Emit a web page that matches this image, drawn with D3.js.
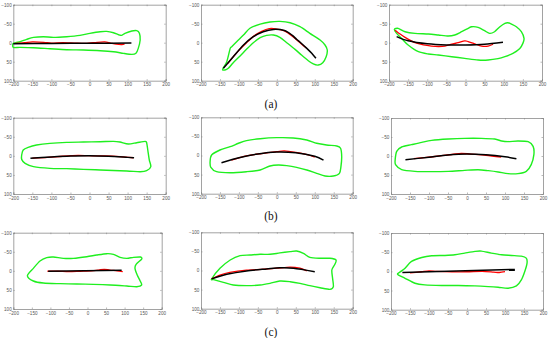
<!DOCTYPE html>
<html>
<head>
<meta charset="utf-8">
<script src="https://cdn.jsdelivr.net/npm/d3@7"></script>
<style>
  body { margin: 0; background: #fff; }
  svg { display: block; }
</style>
</head>
<body>
<svg id="chart" width="550" height="338"></svg>
<script>
// axis ticks, shared by all 9 panels
var xTicks = [-200, -150, -100, -50, 0, 50, 100, 150, 200];
var yTicks = [-100, -50, 0, 50, 100];
var captions = ['(a)', '(b)', '(c)'];

// row (a)
var outlineA1 = [[-200,1.8],[-182,-2.6],[-165,-8.8],[-147,-14],[-121,-15.8],[-95,-14],[-60,-15.8],[-25,-19.3],[1,-24.6],[28,-29],[45,-29.8],[63,-26.3],[76,-21],[84,-19.3],[93,-24.6],[111,-30.7],[124,-31.6],[131,-24.6],[133,-7],[128,15],[122,28],[111,30.7],[89,28],[63,23.7],[28,21],[-16,19.3],[-60,18.4],[-104,15.8],[-147,13.2],[-182,12.3],[-200,12.3]];
var redA1 = [[-195,2],[-170,0],[-150,-2],[-120,-1],[-100,1],[-70,0],[-40,1],[-10,2],[20,-1],[40,-2],[55,1],[70,4],[85,5],[92,3]];
var blackA1 = [[-200,3],[-100,2],[0,1.5],[110,1]];

var outlineA2 = [[-143,70],[-132,50],[-123,15],[-119,10.5],[-106,-2.6],[-88,-20],[-71,-38],[-44,-49],[-18,-54.4],[8,-56],[35,-52.6],[61,-42],[87,-24.6],[114,-7],[127,6],[133,19.3],[130,36.8],[121,52.6],[109,58.8],[96,56],[83,47.4],[65,32.5],[48,17.5],[26,0],[8,-14],[-9,-20.2],[-27,-19.3],[-44,-13.2],[-62,0],[-80,17.5],[-97,35],[-115,52.6],[-128,67.5],[-137,72]];
var redA2 = [[-130,55],[-100,20],[-80,0],[-60,-18],[-40,-30],[-20,-37],[0,-36],[20,-31],[40,-18],[55,-5],[70,8],[78,14]];
var blackA2 = [[-141,67.5],[-115,37],[-88,6],[-62,-15.8],[-36,-29],[-9,-35],[20,-32],[40,-20],[52,-9],[65,2],[79,15],[92,28],[103,41]];

var outlineA3 = [[-186,-35],[-176,-37.7],[-158,-28.9],[-132,-24.6],[-97,-22.8],[-71,-20.2],[-45,-17.5],[-28,-20.2],[-10,-28.9],[7,-37.7],[16,-42],[33,-40.4],[50,-31.6],[63,-24.6],[76,-28.9],[90,-42],[103,-50.9],[111,-52.6],[120,-49],[133,-42],[146,-28.9],[153,-11.4],[150,1.8],[142,15],[124,28],[103,36.8],[85,42],[59,45.6],[33,45.6],[-2,41.2],[-36,36.8],[-71,32.5],[-97,29.8],[-123,23.7],[-150,6],[-167,-11.4],[-180,-24.6]];
var redA3 = [[-184,-33],[-170,-22],[-158,-14],[-132,0],[-110,6],[-89,9],[-70,10],[-54,9],[-36,4],[-19,0],[-2,-5],[7,-3],[24,3],[42,9],[59,9],[72,4]];
var blackA3 = [[-180,-16],[-150,-5],[-100,3],[-50,6],[0,6],[50,4],[98,-1]];

// row (b)
var outlineB1 = [[-178,-2.2],[-174,-15.3],[-161,-22.3],[-139,-28.4],[-104,-32.8],[-60,-35.4],[-16,-36.2],[28,-37],[63,-38],[80,-36.2],[102,-31],[124,-34.5],[146,-38],[150,-34.5],[153,-15.3],[157,11],[161,28.4],[150,39],[133,41.5],[98,39.7],[28,37],[-16,35.4],[-60,33.6],[-104,32.8],[-147,28.4],[-169,19.7],[-178,9.2]];
var redB1 = [[-150,6],[-110,4],[-70,1],[-30,-1],[10,0],[40,0],[80,2],[115,5]];
var blackB1 = [[-155,6.5],[-100,3],[-50,0.5],[0,-0.5],[50,1],[100,4],[117,5]];

var outlineB2 = [[-176,16],[-172,-1.3],[-150,-14.4],[-123,-23],[-101,-32],[-80,-39],[-44,-44],[0,-46.7],[43,-46],[79,-40.6],[105,-32],[131,-27.5],[158,-25],[168,-18.8],[171,3],[169,29.3],[165,46.7],[149,53.7],[127,53.7],[105,46.7],[79,38],[52,31],[26,26.6],[4,25],[-18,27.5],[-44,38],[-80,42.4],[-123,45],[-159,42.4],[-174,31]];
var redB2 = [[-120,12],[-80,1],[-40,-5],[0,-10],[20,-12],[50,-8],[80,-2],[100,4]];
var blackB2 = [[-146,19],[-100,6],[-50,-4],[0,-9],[50,-7],[100,2],[123,12]];

var outlineB3 = [[-189,9.6],[-185,-12.3],[-172,-23.7],[-146,-29.8],[-119,-36],[-93,-41.2],[-49,-44.7],[-6,-46.5],[38,-46.5],[73,-44.7],[91,-39.5],[108,-37.7],[134,-39.5],[161,-37.7],[174,-25.4],[176,-3.5],[169,22.8],[156,40.4],[134,46.5],[108,46.5],[82,42],[56,38.6],[29,36],[-6,37.7],[-49,40.4],[-93,41.2],[-137,40.4],[-172,36],[-188,22.8]];
var redB3 = [[-140,7],[-90,2],[-40,-4],[-15,-7],[10,-5],[50,-2],[90,3]];
var blackB3 = [[-162,10],[-100,3],[-50,-2.5],[0,-5],[50,-3],[100,2],[130,7]];

// row (c)
var outlineC1 = [[-162,12.7],[-146,-6.6],[-128,-25.8],[-110,-34.5],[-92,-36.2],[-65,-32.8],[-38,-32.8],[-2,-37],[25,-41.5],[52,-45],[70,-43.2],[88,-35.4],[106,-32.8],[124,-35.4],[143,-36.2],[146,-31],[131,-17],[128,-6.6],[134,11],[142,26.6],[146,37],[133,41.5],[106,39.7],[61,37],[16,35.4],[-29,34.5],[-74,33.6],[-119,32],[-146,26.6]];
var redC1 = [[-108,1],[-80,1],[-50,2],[-20,1],[10,0],[30,-2],[45,-4],[60,-2],[80,0],[95,2]];
var blackC1 = [[-106,1.3],[92,-1.3]];

var outlineC2 = [[-172,22.3],[-150,-5.7],[-123,-27.5],[-97,-39],[-71,-40.6],[-44,-42.4],[-18,-42.4],[8,-46],[35,-49.3],[52,-51],[70,-45],[87,-34.5],[114,-32],[140,-32],[156,-27.5],[153,-16.2],[145,-1.3],[147,20.5],[149,42.4],[140,49.3],[114,45],[87,39.7],[61,33.6],[35,29.3],[8,27.5],[-18,33.6],[-44,38],[-80,39.7],[-115,38],[-141,31],[-167,24]];
var redC2 = [[-172,22],[-150,12],[-124,5],[-80,-1],[-40,-3],[0,-6],[35,-9],[61,-6],[79,1]];
var blackC2 = [[-172,22],[-132,10],[-80,1],[-27,-4],[8,-7],[44,-6],[100,3]];

var outlineC3 = [[-182,5.7],[-172,-1.3],[-163,-8.3],[-146,-25.8],[-119,-36.2],[-93,-40.6],[-58,-41.5],[-32,-43.2],[-6,-47.6],[21,-52],[38,-52.8],[64,-47.6],[91,-43.2],[117,-41.5],[143,-39.7],[156,-34.5],[158,-21.4],[152,0.4],[143,22.3],[130,38],[108,44],[82,41.5],[56,39.7],[21,38],[-23,37],[-67,37],[-111,35.4],[-137,31],[-163,18],[-181,9.2]];
var redC3 = [[-150,4],[-120,1],[-100,-1],[-80,0],[-40,1],[0,1],[40,0],[70,2],[85,3],[100,1]];
var blackC3 = [[-170,3],[126,-5]];

var outlines = [outlineA1, outlineA2, outlineA3, outlineB1, outlineB2, outlineB3, outlineC1, outlineC2, outlineC3];
var reds = [redA1, redA2, redA3, redB1, redB2, redB3, redC1, redC2, redC3];
var blacks = [blackA1, blackA2, blackA3, blackB1, blackB2, blackB3, blackC1, blackC2, blackC3];

// frame boxes in page px: left, right, top, bottom
var boxes = [
  [13.3, 165.7, 4.7, 80.7], [201, 352.7, 4.7, 80.7], [389, 542, 4.7, 80.7],
  [13.3, 165.7, 117.7, 194], [201, 352.7, 117.3, 193.7], [391, 543, 118, 194],
  [13.3, 161.7, 232.7, 309], [201, 352.7, 232.3, 308.7], [391, 543, 233, 309.7]
];
var captionY = [107.5, 219.5, 335.5];

var svg = d3.select('#chart');

boxes.forEach(function(b, i) {
  var x = d3.scaleLinear().domain([-200, 200]).range([b[0], b[1]]);
  var y = d3.scaleLinear().domain([-100, 100]).range([b[2], b[3]]);
  var g = svg.append('g');

  var ax = g.append('g').attr('class', 'axes');
  // ticks point inward on all four sides
  ax.append('g').attr('transform', 'translate(0,' + b[3] + ')')
    .call(d3.axisBottom(x).tickValues(xTicks).tickSize(-1.5).tickPadding(2.4).tickFormat(d3.format('d')));
  ax.append('g').attr('transform', 'translate(0,' + b[2] + ')')
    .call(d3.axisTop(x).tickValues(xTicks).tickSize(-1.5).tickFormat(''));
  ax.append('g').attr('transform', 'translate(' + b[0] + ',0)')
    .call(d3.axisLeft(y).tickValues(yTicks).tickSize(-1.5).tickPadding(1.6).tickFormat(d3.format('d')));
  ax.append('g').attr('transform', 'translate(' + b[1] + ',0)')
    .call(d3.axisRight(y).tickValues(yTicks).tickSize(-1.5).tickFormat(''));
  ax.selectAll('path.domain').attr('stroke', '#8a8a8a').attr('stroke-width', 0.8);
  ax.selectAll('.tick line').attr('stroke', '#8a8a8a').attr('stroke-width', 0.6);
  ax.selectAll('.tick text').attr('fill', '#555').style('font-size', '4.6px')
    .style('font-family', 'Liberation Sans, Arial, sans-serif');

  var closed = d3.line().x(function(d) { return x(d[0]); }).y(function(d) { return y(d[1]); })
    .curve(d3.curveCardinalClosed.tension(0.2));
  var open = d3.line().x(function(d) { return x(d[0]); }).y(function(d) { return y(d[1]); })
    .curve(d3.curveCardinal.tension(0.2));

  g.append('path').datum(outlines[i]).attr('d', closed)
    .attr('fill', 'none').attr('stroke', '#1fef1f').attr('stroke-width', 1.4);
  g.append('path').datum(reds[i]).attr('d', open)
    .attr('fill', 'none').attr('stroke', '#f00').attr('stroke-width', 1.3);
  g.append('path').datum(blacks[i]).attr('d', open)
    .attr('fill', 'none').attr('stroke', '#000').attr('stroke-width', 1.5);
});

svg.selectAll('text.caption').data(captions).enter()
  .append('text')
  .attr('class', 'caption')
  .attr('x', 271)
  .attr('y', function(d, i) { return captionY[i]; })
  .attr('text-anchor', 'middle')
  .style('font-family', 'Liberation Serif, serif')
  .style('font-size', '11.5px')
  .attr('fill', '#111')
  .text(function(d) { return d; });
</script>
</body>
</html>
